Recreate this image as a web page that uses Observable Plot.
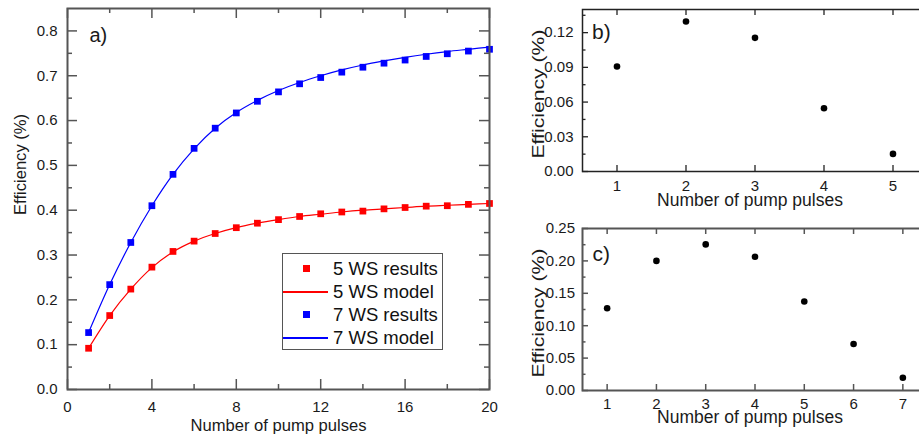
<!DOCTYPE html>
<html>
<head>
<meta charset="utf-8">
<script src="https://cdn.jsdelivr.net/npm/d3@7"></script>
<script src="https://cdn.jsdelivr.net/npm/@observablehq/plot@0.6"></script>
<style>
  html, body { margin: 0; padding: 0; background: #fff; overflow: hidden; }
  #wrap { position: relative; width: 919px; height: 436px; overflow: hidden; font-family: "Liberation Sans", Arial, sans-serif; }
  #wrap svg { position: absolute; overflow: visible; background: transparent; }
  #legend { position: absolute; left: 282px; top: 253px; width: 161px; height: 97px; border: 1px solid #555; box-sizing: border-box; background: #fff; }
  .row { position: absolute; left: 0; height: 23px; width: 160px; }
  .sq { position: absolute; left: 20px; top: 8px; width: 7px; height: 7px; }
  .ln { position: absolute; left: 0px; top: 11px; width: 45px; height: 2px; }
  .row span { position: absolute; left: 50px; top: 0; line-height: 23px; font-size: 18.5px; color: #111; white-space: nowrap; }
</style>
</head>
<body>
<div id="wrap"></div>
<script>
// ---------- Panel a data ----------
const pulsesA = [1,2,3,4,5,6,7,8,9,10,11,12,13,14,15,16,17,18,19,20];
const ws5Results = [0.092,0.165,0.224,0.273,0.308,0.331,0.348,0.361,0.371,0.379,0.386,0.392,0.396,0.398,0.403,0.406,0.409,0.410,0.413,0.415];
const ws5Model   = [0.092,0.165,0.224,0.272,0.307,0.331,0.348,0.361,0.371,0.379,0.386,0.391,0.396,0.400,0.403,0.406,0.409,0.411,0.413,0.415];
const ws7Results = [0.127,0.234,0.328,0.410,0.480,0.538,0.583,0.617,0.643,0.664,0.682,0.696,0.708,0.719,0.728,0.735,0.743,0.749,0.755,0.759];
const ws7Model   = [0.127,0.234,0.328,0.410,0.480,0.537,0.583,0.618,0.645,0.667,0.685,0.700,0.713,0.724,0.733,0.741,0.748,0.754,0.759,0.764];
const xTicksA = [0,4,8,12,16,20];
const xMinorA = [2,6,10,14,18];
const yTicksA = [0,0.1,0.2,0.3,0.4,0.5,0.6,0.7,0.8];
const yMinorA = [0.05,0.15,0.25,0.35,0.45,0.55,0.65,0.75];
const legendLabels = ["5 WS results","5 WS model","7 WS results","7 WS model"];

// ---------- Panel b data ----------
const pulsesB = [1,2,3,4,5];
const effB = [0.0908,0.1296,0.1155,0.0546,0.0152];
const yTicksB = [0,0.03,0.06,0.09,0.12];
const yMinorB = [0.015,0.045,0.075,0.105,0.135];

// ---------- Panel c data ----------
const pulsesC = [1,2,3,4,5,6,7];
const effC = [0.127,0.200,0.2255,0.2063,0.1373,0.0717,0.0197];
const yTicksC = [0,0.05,0.10,0.15,0.20,0.25];
const yMinorC = [0.025,0.075,0.125,0.175,0.225];

const xTitle = "Number of pump pulses";
const yTitle = "Efficiency (%)";
const RED = "#ff0000", BLUE = "#0000ff";
const FONT = "Liberation Sans, Arial, sans-serif";
const wrap = document.getElementById("wrap");

function tickMarks(opts) {
  const {xMajor, xMinor = [], yMajor, yMinor = [], innerW, innerH, major, minor, color, sw} = opts;
  const m = [];
  m.push(Plot.tickX(xMajor, {x: d => d, insetTop: innerH - major, stroke: color, strokeWidth: sw}));
  m.push(Plot.tickX(xMajor, {x: d => d, insetBottom: innerH - major, stroke: color, strokeWidth: sw}));
  if (xMinor.length) {
    m.push(Plot.tickX(xMinor, {x: d => d, insetTop: innerH - minor, stroke: color, strokeWidth: sw}));
    m.push(Plot.tickX(xMinor, {x: d => d, insetBottom: innerH - minor, stroke: color, strokeWidth: sw}));
  }
  m.push(Plot.tickY(yMajor, {y: d => d, insetRight: innerW - major, stroke: color, strokeWidth: sw}));
  m.push(Plot.tickY(yMajor, {y: d => d, insetLeft: innerW - major, stroke: color, strokeWidth: sw}));
  m.push(Plot.tickY(yMinor, {y: d => d, insetRight: innerW - minor, stroke: color, strokeWidth: sw}));
  m.push(Plot.tickY(yMinor, {y: d => d, insetLeft: innerW - minor, stroke: color, strokeWidth: sw}));
  return m;
}

// ---------- Panel a ----------
{
  const W = 500, H = 436, mL = 67, mR = 11, mT = 8, mB = 47;
  const innerW = W - mL - mR, innerH = H - mT - mB;
  const r5 = pulsesA.map((n, i) => ({n, v: ws5Results[i]}));
  const m5 = pulsesA.map((n, i) => ({n, v: ws5Model[i]}));
  const r7 = pulsesA.map((n, i) => ({n, v: ws7Results[i]}));
  const m7 = pulsesA.map((n, i) => ({n, v: ws7Model[i]}));
  const svg = Plot.plot({
    width: W, height: H, marginLeft: mL, marginRight: mR, marginTop: mT, marginBottom: mB,
    style: {fontFamily: FONT, color: "#1a1a1a", background: "transparent"},
    x: {domain: [0, 20]},
    y: {domain: [0, 0.85]},
    marks: [
      Plot.line(m5, {x: "n", y: "v", stroke: RED, strokeWidth: 1.2, curve: "monotone-x"}),
      Plot.line(m7, {x: "n", y: "v", stroke: BLUE, strokeWidth: 1.2, curve: "monotone-x"}),
      Plot.dot(r5, {x: "n", y: "v", symbol: "square", r: 3.8, fill: RED, stroke: "none"}),
      Plot.dot(r7, {x: "n", y: "v", symbol: "square", r: 3.8, fill: BLUE, stroke: "none"}),
      ...tickMarks({xMajor: xTicksA, xMinor: xMinorA, yMajor: yTicksA, yMinor: yMinorA, innerW, innerH, major: 10, minor: 5, color: "#555", sw: 1.5}),
      Plot.frame({stroke: "#555", strokeWidth: 2}),
      Plot.axisX({ticks: xTicksA, tickSize: 0, tickPadding: 12, fontSize: 15, label: null, tickFormat: d3.format("d")}),
      Plot.axisY({ticks: yTicksA, tickSize: 0, tickPadding: 10, fontSize: 15, label: null, tickFormat: d3.format(".1f")}),
      Plot.text([xTitle], {frameAnchor: "bottom", lineAnchor: "middle", dy: 36, fontSize: 16.6, fill: "#1a1a1a"}),
      Plot.text([yTitle], {frameAnchor: "left", lineAnchor: "middle", dx: -47, dy: 16, rotate: -90, fontSize: 16.6, fill: "#1a1a1a"}),
      Plot.text(["a)"], {frameAnchor: "top-left", dx: 22, dy: 27, textAnchor: "start", lineAnchor: "middle", fontSize: 20, fill: "#1a1a1a"})
    ]
  });
  svg.style.left = "0px"; svg.style.top = "0px";
  wrap.appendChild(svg);
}

// ---------- Panel b ----------
{
  const W = 417, H = 218, mL = 72, mR = 0, mT = 9, mB = 47;
  const innerW = W - mL - mR, innerH = H - mT - mB;
  const data = pulsesB.map((n, i) => ({n, v: effB[i]}));
  const svg = Plot.plot({
    width: W, height: H, marginLeft: mL, marginRight: mR, marginTop: mT, marginBottom: mB,
    style: {fontFamily: FONT, color: "#1a1a1a", background: "transparent"},
    x: {domain: [0.5, 5.5]},
    y: {domain: [0, 0.14]},
    marks: [
      Plot.dot(data, {x: "n", y: "v", r: 3.3, fill: "#000", stroke: "none"}),
      ...tickMarks({xMajor: pulsesB, yMajor: yTicksB, yMinor: yMinorB, innerW, innerH, major: 6, minor: 3.5, color: "#222", sw: 1.3}),
      Plot.frame({stroke: "#222", strokeWidth: 1.5}),
      Plot.axisX({ticks: pulsesB, tickSize: 0, tickPadding: 8.5, fontSize: 15, label: null, tickFormat: d3.format("d")}),
      Plot.axisY({ticks: yTicksB, tickSize: 0, tickPadding: 9, fontSize: 15, label: null, tickFormat: d3.format(".2f")}),
      Plot.text([xTitle], {frameAnchor: "bottom", lineAnchor: "middle", dx: -5, dy: 29, fontSize: 17.5, fill: "#1a1a1a"}),
      Plot.text([yTitle], {frameAnchor: "left", lineAnchor: "middle", textAnchor: "start", dx: -44, dy: 68, rotate: -90, fontSize: 17, fill: "#1a1a1a", className: "ytitle"}),
      Plot.text(["b)"], {frameAnchor: "top-left", dx: 9.5, dy: 22.5, textAnchor: "start", lineAnchor: "middle", fontSize: 21, fill: "#1a1a1a"})
    ]
  });
  svg.style.left = "510px"; svg.style.top = "0px";
  wrap.appendChild(svg);
}

// ---------- Panel c ----------
{
  const W = 417, H = 218, mL = 72, mR = 0, mT = 10, mB = 46;
  const innerW = W - mL - mR, innerH = H - mT - mB;
  const data = pulsesC.map((n, i) => ({n, v: effC[i]}));
  const svg = Plot.plot({
    width: W, height: H, marginLeft: mL, marginRight: mR, marginTop: mT, marginBottom: mB,
    style: {fontFamily: FONT, color: "#1a1a1a", background: "transparent"},
    x: {domain: [0.5, 7.5]},
    y: {domain: [0, 0.25]},
    marks: [
      Plot.dot(data, {x: "n", y: "v", r: 3.3, fill: "#000", stroke: "none"}),
      ...tickMarks({xMajor: pulsesC, yMajor: yTicksC, yMinor: yMinorC, innerW, innerH, major: 6, minor: 3.5, color: "#555", sw: 1.5}),
      Plot.frame({stroke: "#555", strokeWidth: 2}),
      Plot.axisX({ticks: pulsesC, tickSize: 0, tickPadding: 7.5, fontSize: 15, label: null, tickFormat: d3.format("d")}),
      Plot.axisY({ticks: yTicksC, tickSize: 0, tickPadding: 7.5, fontSize: 15, label: null, tickFormat: d3.format(".2f")}),
      Plot.text([xTitle], {frameAnchor: "bottom", lineAnchor: "middle", dx: -5, dy: 27, fontSize: 17.5, fill: "#1a1a1a"}),
      Plot.text([yTitle], {frameAnchor: "left", lineAnchor: "middle", textAnchor: "start", dx: -44, dy: 68, rotate: -90, fontSize: 17, fill: "#1a1a1a", className: "ytitle"}),
      Plot.text(["c)"], {frameAnchor: "top-left", dx: 10, dy: 26, textAnchor: "start", lineAnchor: "middle", fontSize: 21, fill: "#1a1a1a"})
    ]
  });
  svg.style.left = "510px"; svg.style.top = "218px";
  wrap.appendChild(svg);
}

// stretch y titles in b and c to match reference length
wrap.querySelectorAll(".ytitle text").forEach(t => {
  t.setAttribute("textLength", 129);
  t.setAttribute("lengthAdjust", "spacingAndGlyphs");
});

// ---------- Legend for panel a ----------
{
  const legend = document.createElement("div");
  legend.id = "legend";
  const colors = [RED, RED, BLUE, BLUE];
  const kinds = ["sq", "ln", "sq", "ln"];
  legendLabels.forEach((lab, i) => {
    const row = document.createElement("div");
    row.className = "row";
    row.style.top = (3 + i * 23) + "px";
    const sw = document.createElement("div");
    sw.className = kinds[i];
    sw.style.backgroundColor = colors[i];
    row.appendChild(sw);
    const sp = document.createElement("span");
    sp.textContent = lab;
    row.appendChild(sp);
    legend.appendChild(row);
  });
  wrap.appendChild(legend);
}
</script>
</body>
</html>
